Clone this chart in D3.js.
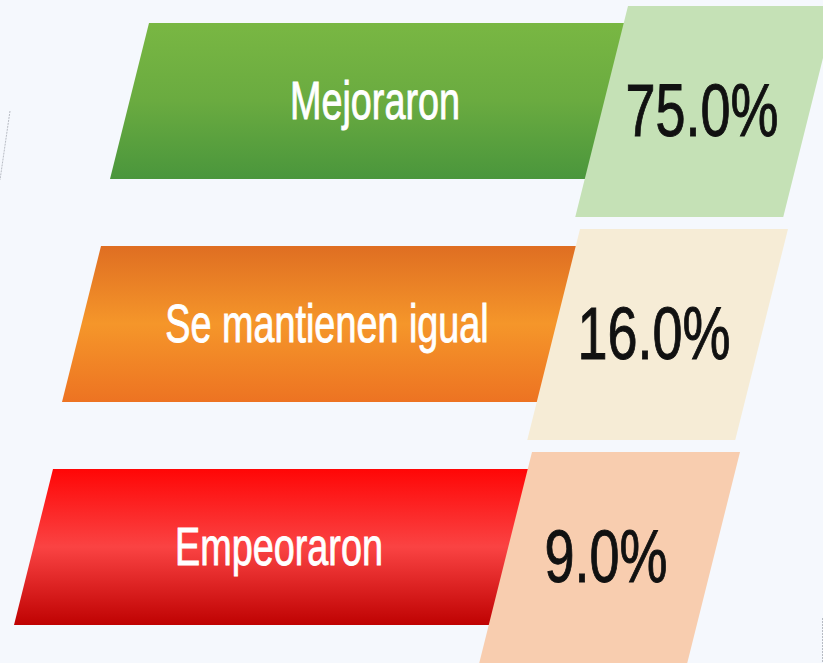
<!DOCTYPE html>
<html>
<head>
<meta charset="utf-8">
<style>
  html, body { margin: 0; padding: 0; background: #f5f8fd; }
  svg { display: block; }
</style>
</head>
<body>
<div class="chart"></div>

<script src="https://cdnjs.cloudflare.com/ajax/libs/d3/7.8.5/d3.min.js"></script>
<script>
// data
const categories = ["Mejoraron", "Se mantienen igual", "Empeoraron"];
const values = [75.0, 16.0, 9.0];
const barStops = [
  ["#79b743", "#6aab40", "#4a963c"],
  ["#df6e22", "#f5962a", "#ed7322"],
  ["#ff0606", "#fa4343", "#bf0202"]
];
const boxColors = ["#c5e1b6", "#f6ecd6", "#f8cdaf"];

const width = 823, height = 663;
const slope = 0.25;          // lean of every edge

const svg = d3.select(".chart").append("svg")
    .attr("width", width)
    .attr("height", height)
    .attr("viewBox", `0 0 ${width} ${height}`);

const y = d3.scaleBand()
    .domain(categories)
    .range([23, 625])
    .paddingInner(0.3)
    .paddingOuter(0);

// each row steps left as it goes down
const shift = d3.scaleLinear().domain([23, 23 + 223]).range([0, -48]);

const defs = svg.append("defs");
barStops.forEach((stops, i) => {
  const g = defs.append("linearGradient")
      .attr("id", "grad" + i)
      .attr("x1", 0).attr("y1", 0).attr("x2", 0).attr("y2", 1);
  g.append("stop").attr("offset", "0%").attr("stop-color", stops[0]);
  g.append("stop").attr("offset", "50%").attr("stop-color", stops[1]);
  g.append("stop").attr("offset", "100%").attr("stop-color", stops[2]);
});

// faint dotted fragments
svg.append("line")
    .attr("x1", 10).attr("y1", 111).attr("x2", 0).attr("y2", 180)
    .attr("stroke", "#b8bcc4").attr("stroke-width", 1).attr("stroke-dasharray", "2,1");
svg.append("line")
    .attr("x1", 822.5).attr("y1", 618).attr("x2", 822.5).attr("y2", 663)
    .attr("stroke", "#b8bcc4").attr("stroke-width", 1).attr("stroke-dasharray", "2,1");

const rows = svg.selectAll("g.row")
  .data(categories.map((c, i) => ({cat: c, value: values[i], i: i})))
  .join("g")
    .attr("class", "row")
    .attr("transform", d => `translate(${shift(y(d.cat))},0)`);

// label bar (parallelogram)
rows.append("path")
    .attr("fill", d => `url(#grad${d.i})`)
    .attr("d", d => {
      const t = y(d.cat), b = t + y.bandwidth(), h = y.bandwidth();
      const left = 149, right = 640;
      return `M${left},${t}L${right},${t}L${right - h * slope},${b}L${left - h * slope},${b}Z`;
    });

// value box (parallelogram)
const boxTop = d => y(d.cat) - 17;
const boxH = 211, boxW = 208, boxLeft = 628;
rows.append("path")
    .attr("fill", d => boxColors[d.i])
    .attr("d", d => {
      const t = boxTop(d), b = t + boxH;
      return `M${boxLeft},${t}L${boxLeft + boxW},${t}L${boxLeft + boxW - boxH * slope},${b}L${boxLeft - boxH * slope},${b}Z`;
    });

// category label
rows.append("text")
    .attr("transform", d => `translate(375,${y(d.cat) + 96}) scale(0.7,1)`)
    .attr("text-anchor", "middle")
    .attr("font-family", "'Liberation Sans', Arial, sans-serif")
    .attr("font-size", 54)
    .attr("fill", "#ffffff")
    .attr("stroke", "#ffffff")
    .attr("stroke-width", 0.9)
    .text(d => d.cat);

// value label
const fmt = d3.format(".1f");
rows.append("text")
    .attr("transform", d => `translate(702,${y(d.cat) + 113}) scale(0.72,1)`)
    .attr("text-anchor", "middle")
    .attr("font-family", "'Liberation Sans', Arial, sans-serif")
    .attr("font-size", 75)
    .attr("fill", "#111111")
    .attr("stroke", "#111111")
    .attr("stroke-width", 1)
    .text(d => fmt(d.value) + "%");
</script>
</body>
</html>
